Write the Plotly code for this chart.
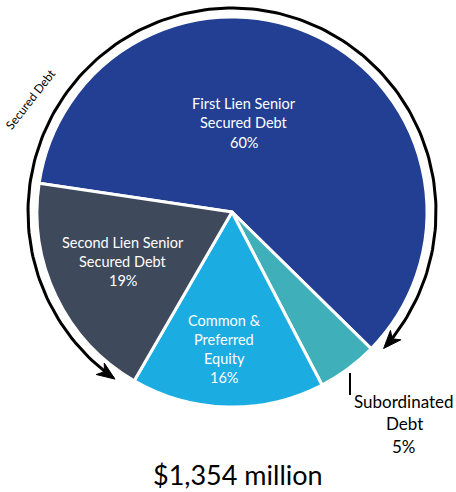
import math
import plotly.graph_objects as go

# Portfolio composition by investment type
categories = [
    "First Lien Senior Secured Debt",
    "Subordinated Debt",
    "Common & Preferred Equity",
    "Second Lien Senior Secured Debt",
]
label_lines = [
    ["First Lien Senior", "Secured Debt"],
    ["Subordinated", "Debt"],
    ["Common &", "Preferred", "Equity"],
    ["Second Lien Senior", "Secured Debt"],
]
values = [60, 5, 16, 19]
colors = ["#233F93", "#3FB0B9", "#1BACE2", "#3E4A5B"]
total_label = "$1,354 million"
bracket_label = "Secured Debt"

W, H = 456, 492
FONT = "Lato"

# pie geometry in pixels
CX, CY, R = 232, 212, 195
START_ANGLE = 278.5  # clockwise from 12 o'clock

total = sum(values)
pct = [round(100 * v / total) for v in values]

fig = go.Figure()

fig.add_trace(go.Pie(
    labels=categories,
    values=values,
    sort=False,
    direction="clockwise",
    rotation=START_ANGLE - 360,
    marker=dict(colors=colors, line=dict(color="white", width=3)),
    textinfo="none",
    hoverinfo="label+percent",
    showlegend=False,
    domain=dict(
        x=[(CX - R) / W, (CX + R) / W],
        y=[(H - (CY + R)) / H, (H - (CY - R)) / H],
    ),
))


def pt(theta_deg, r):
    t = math.radians(theta_deg)
    return CX + r * math.sin(t), CY - r * math.cos(t)


# bracket arc around the secured-debt slices (double-headed)
ARC_R = 204
a0, a1 = 215.0, 132.0 + 360.0
HEAD_L, HEAD_W = 18.0, 14.0
trim = math.degrees((HEAD_L * 0.6) / ARC_R)
n = 200
xs, ys = [], []
for i in range(n + 1):
    th = (a0 + trim) + (a1 - trim - (a0 + trim)) * i / n
    x, y = pt(th, ARC_R)
    xs.append(x)
    ys.append(y)
fig.add_trace(go.Scatter(x=xs, y=ys, mode="lines",
                         line=dict(color="black", width=3),
                         hoverinfo="skip", showlegend=False))


def head(theta_deg, sign):
    tx, ty = pt(theta_deg, ARC_R)
    t = math.radians(theta_deg)
    dx, dy = sign * math.cos(t), sign * math.sin(t)
    nx, ny = -dy, dx
    bx, by = tx - HEAD_L * dx, ty - HEAD_L * dy
    mx, my = tx - 0.72 * HEAD_L * dx, ty - 0.72 * HEAD_L * dy
    px = [tx, bx + HEAD_W / 2 * nx, mx, bx - HEAD_W / 2 * nx, tx]
    py = [ty, by + HEAD_W / 2 * ny, my, by - HEAD_W / 2 * ny, ty]
    return px, py


for th, s in [(a0, -1), (a1, 1)]:
    px, py = head(th, s)
    fig.add_trace(go.Scatter(x=px, y=py, mode="lines", fill="toself",
                             fillcolor="black", line=dict(color="black", width=1),
                             hoverinfo="skip", showlegend=False))

annotations = []


def add_block(lines, x, y0, step, size, color):
    for k, line in enumerate(lines):
        annotations.append(dict(
            x=x, y=y0 + k * step, xref="x", yref="y", text=line,
            showarrow=False, xanchor="center", yanchor="middle",
            font=dict(family=FONT, size=size, color=color),
        ))


# slice labels: (x centre, first line y, line step, font size, colour)
placements = [
    (244, 103, 19.5, 14.5, "white"),
    (404, 401, 22.5, 17, "black"),
    (224, 320, 19.3, 14.5, "white"),
    (123, 242, 19.3, 14.5, "white"),
]
for lines, p, (x, y0, step, size, col) in zip(label_lines, pct, placements):
    add_block(lines + [f"{p}%"], x, y0, step, size, col)

# leader for the small slice label
fig.add_shape(type="line", x0=350, x1=350, y0=373, y1=395, xref="x", yref="y",
              line=dict(color="black", width=2))

annotations.append(dict(
    x=30, y=99, xref="x", yref="y", text=bracket_label, showarrow=False,
    textangle=-52, xanchor="center", yanchor="middle",
    font=dict(family=FONT, size=12, color="black"),
))
annotations.append(dict(
    x=238, y=474, xref="x", yref="y", text=total_label, showarrow=False,
    xanchor="center", yanchor="middle",
    font=dict(family=FONT, size=27, color="black"),
))

fig.update_layout(
    width=W, height=H,
    margin=dict(l=0, r=0, t=0, b=0),
    paper_bgcolor="white", plot_bgcolor="rgba(0,0,0,0)",
    xaxis=dict(range=[0, W], visible=False, fixedrange=True),
    yaxis=dict(range=[H, 0], visible=False, fixedrange=True),
    annotations=annotations,
    showlegend=False,
)

fig.write_html("out.html")
